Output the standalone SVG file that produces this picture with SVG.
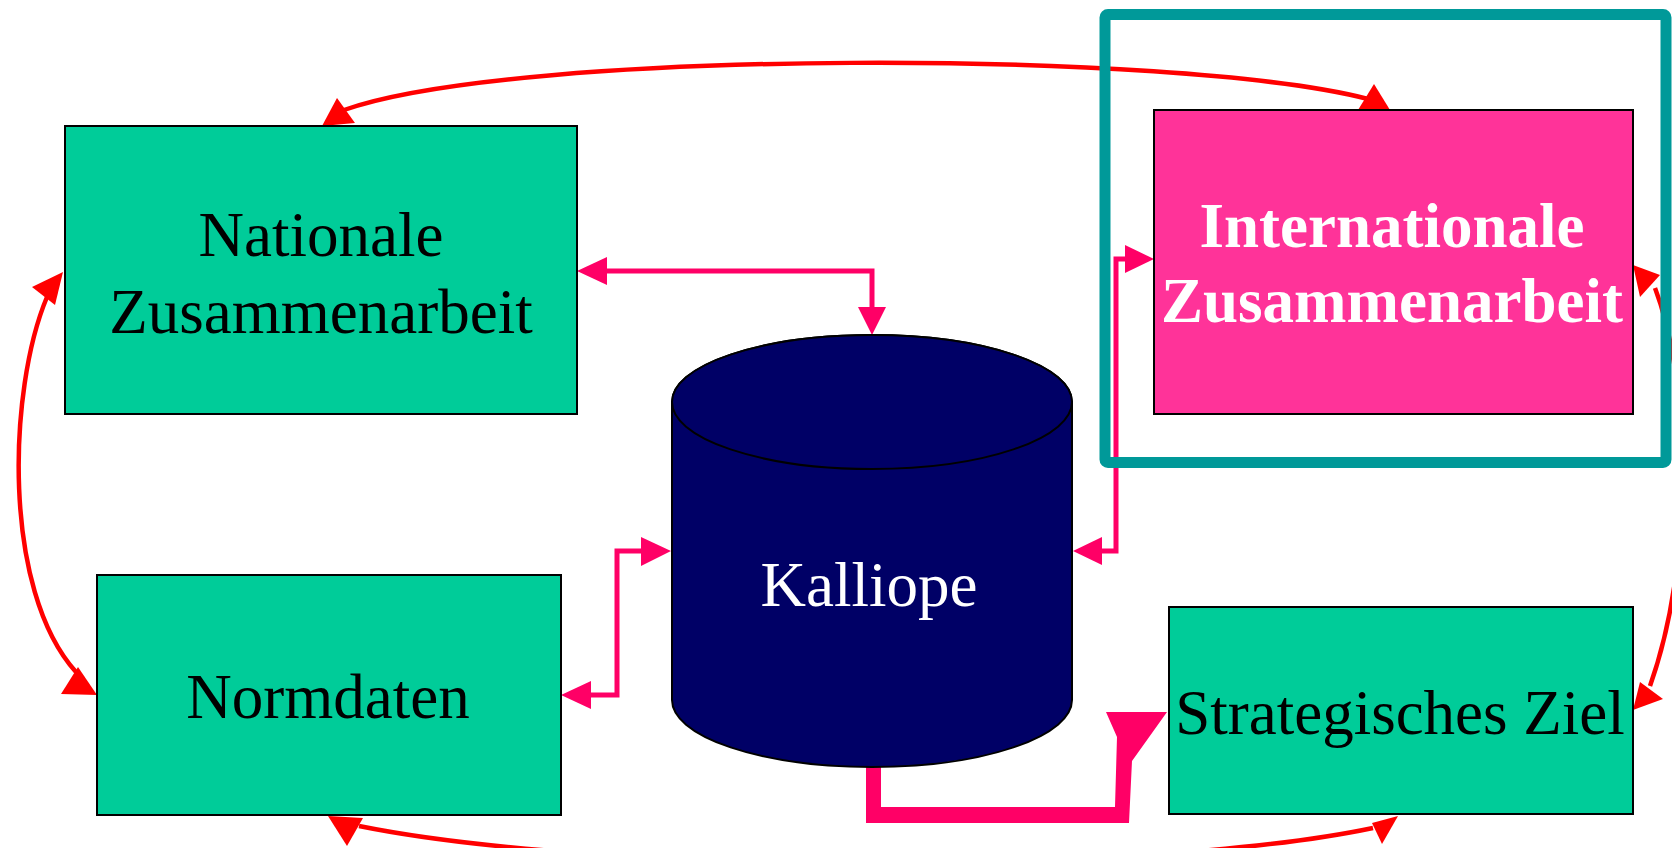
<svg xmlns="http://www.w3.org/2000/svg" width="1672" height="848" viewBox="0 0 1672 848">
<style>
.box{stroke:#000;stroke-width:2}
.green{fill:#00CC99}
.lbl{font-family:"Liberation Serif","Times New Roman",serif;font-size:63px;text-anchor:middle;fill:#000}
.wlbl{font-family:"Liberation Serif","Times New Roman",serif;font-size:63px;text-anchor:middle;fill:#fff;font-weight:bold}
.klbl{font-family:"Liberation Serif","Times New Roman",serif;font-size:63px;text-anchor:middle;fill:#fff}
.red{fill:none;stroke:#FF0000;stroke-width:4.5}
.redh{fill:#FF0000}
.pk{fill:none;stroke:#FF0066;stroke-width:5}
.pkh{fill:#FF0066}
</style>
<rect width="1672" height="848" fill="#fff"/>
<g id="connectors">
  <path class="pkh" d="M866,760 L866,823 L1129,823 L1132,761 L1167,712 L1106,712 L1117,737 L1115,807 L881,807 L881,760 Z"/>
  <path class="red" d="M344,110 C520,48 1180,50 1368,99"/>
  <polygon class="redh" points="322,126 337,98 355,123"/>
  <polygon class="redh" points="1358,110 1374,84 1390,110"/>
  <path class="red" d="M47,297 C8,390 2,590 76,672"/>
  <polygon class="redh" points="63,272 32,287 55,305"/>
  <polygon class="redh" points="61,694 78,667 97,695"/>
  <path class="red" d="M359,826 C600,875 1150,875 1373,828"/>
  <polygon class="redh" points="328,816 363,818 347,846"/>
  <polygon class="redh" points="1372,823 1398,816 1382,844"/>
  <path class="red" d="M1655,288 C1690,380 1695,560 1650,686"/>
  <polygon class="redh" points="1633,265 1660,275 1640,297"/>
  <polygon class="redh" points="1633,710 1640,682 1663,699"/>
  <path class="pk" d="M605,271 H872 V309"/>
  <polygon class="pkh" points="577,271 607,257 607,285"/>
  <polygon class="pkh" points="872,335 858,307 886,307"/>
  <path class="pk" d="M589,695 H617 V551 H643"/>
  <polygon class="pkh" points="561,695 591,681 591,709"/>
  <polygon class="pkh" points="671,551 641,537 641,566"/>
  <path class="pk" d="M1127,259 H1116 V551 H1100"/>
  <polygon class="pkh" points="1154,259 1125,245 1125,273"/>
  <polygon class="pkh" points="1073,551 1102,537 1102,565"/>
</g>
<g id="frame">
  <rect x="1105" y="14.5" width="561" height="448" rx="3" fill="none" stroke="#009999" stroke-width="11" stroke-linejoin="round"/>
</g>
<g id="nationale">
  <rect class="box green" x="65" y="126" width="512" height="288"/>
  <text class="lbl" x="321" y="256">Nationale</text>
  <text class="lbl" x="321" y="333">Zusammenarbeit</text>
</g>
<g id="normdaten">
  <rect class="box green" x="97" y="575" width="464" height="240"/>
  <text class="lbl" x="328" y="718">Normdaten</text>
</g>
<g id="international">
  <rect class="box" fill="#FF3399" x="1154" y="110" width="479" height="304"/>
  <text class="wlbl" x="1392" y="247">Internationale</text>
  <text class="wlbl" x="1392" y="322">Zusammenarbeit</text>
</g>
<g id="ziel">
  <rect class="box green" x="1169" y="607" width="464" height="207"/>
  <text class="lbl" x="1400" y="734" font-size="62">Strategisches Ziel</text>
</g>
<g id="kalliope">
  <path d="M672,402 V700 A200,67 0 0 0 1072,700 V402 A200,67 0 0 0 672,402 Z" fill="#000066" stroke="#000" stroke-width="2"/>
  <ellipse cx="872" cy="402" rx="200" ry="67" fill="#000066" stroke="#000" stroke-width="2"/>
  <text class="klbl" x="869" y="606">Kalliope</text>
</g>
</svg>
